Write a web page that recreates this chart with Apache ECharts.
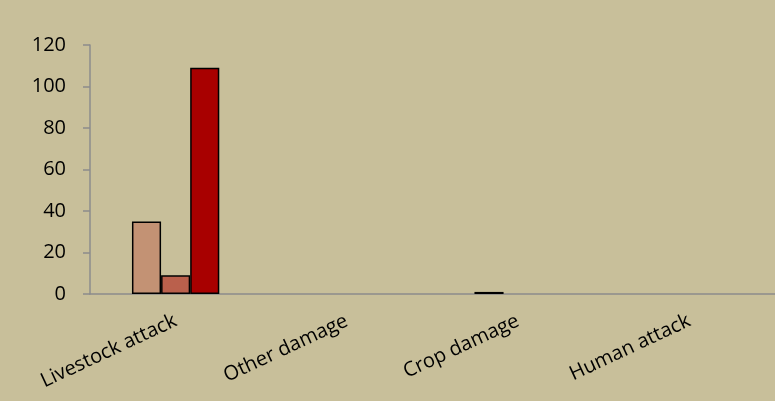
<!DOCTYPE html>
<html>
<head>
<meta charset="utf-8">
<script src="https://cdn.jsdelivr.net/npm/echarts@6/dist/echarts.min.js"></script>
<style>
  html, body { margin: 0; padding: 0; background: #c8bf9a; }
  #chart { width: 775px; height: 401px; }
</style>
</head>
<body>
<div id="chart"></div>
<script>
const categories = ['Livestock attack', 'Other damage', 'Crop damage', 'Human attack']
// null = no bar drawn for that category
const series1 = [35, null, 1, null]
const series2 = [9, null, null, null]
const series3 = [109, null, null, null]
const yTicks = { min: 0, max: 120, interval: 20 }

const myChart = echarts.init(document.getElementById('chart'))
const barStyle = (color) => ({
  color: color,
  borderColor: '#000',
  borderWidth: 1.5,
})
const option = {
  backgroundColor: '#c8bf9a',
  textStyle: { fontFamily: 'Open Sans' },
  grid: { left: 90, top: 45, bottom: 107, right: -7 },
  xAxis: {
    type: 'category',
    data: categories,
    axisLine: { lineStyle: { color: '#8c8c8c', width: 1.5 } },
    axisTick: { length: 6, lineStyle: { color: '#8c8c8c', width: 1.5 } },
    axisLabel: {
      rotate: 25,
      color: '#000',
      fontSize: 20,
      margin: 26,
      interval: 0,
    },
  },
  yAxis: {
    type: 'value',
    min: yTicks.min,
    max: yTicks.max,
    interval: yTicks.interval,
    splitLine: { show: false },
    axisLine: { show: true, lineStyle: { color: '#8c8c8c', width: 1.5 } },
    axisTick: { show: true, length: 7, lineStyle: { color: '#8c8c8c', width: 1.5 } },
    axisLabel: { color: '#000', fontSize: 20, margin: 24 },
  },
  series: [
    { name: 'Series 1', type: 'bar', data: series1, itemStyle: barStyle('#c39274'), barGap: '0%', barCategoryGap: '49%' },
    { name: 'Series 2', type: 'bar', data: series2, itemStyle: barStyle('#ba604c') },
    { name: 'Series 3', type: 'bar', data: series3, itemStyle: barStyle('#a80000') },
  ],
}
myChart.setOption(option)
</script>
</body>
</html>
